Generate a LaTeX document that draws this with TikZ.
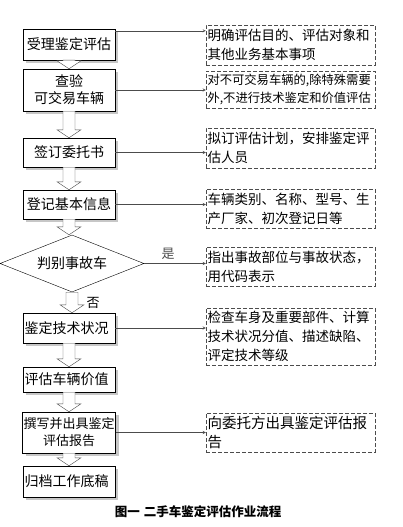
\documentclass[tikz,border=0pt]{standalone}
\usepackage{fontspec}
\setmainfont{Noto Sans CJK SC}
\usetikzlibrary{arrows,calc,shapes.geometric,shadows}
\definecolor{mygray}{gray}{0.78}
\definecolor{mydark}{gray}{0.3}
\newcommand{\blockarrow}[2]{%
  \draw[blockarr] let \p1=(#1.south), \p2=(#2.north) in
    (\x1-6pt,\y1) -- (\x1+6pt,\y1) -- (\x1+6pt,\y2+8pt) -- (\x1+12pt,\y2+8pt)
    -- (\x1,\y2) -- (\x1-12pt,\y2+8pt) -- (\x1-6pt,\y2+8pt) -- cycle;}

\begin{document}
\begin{tikzpicture}[x=1pt,y=-1pt,
  procbox/.style={draw=black, fill=white, minimum width=92pt, inner sep=1pt, align=center,
    font=\fontsize{14}{17}\selectfont,
    drop shadow={shadow xshift=3pt, shadow yshift=-3pt, fill=mygray, opacity=1}},
  leftbox/.style={procbox, text width=89pt, align=left},
  infobox/.style={draw=mydark, dash pattern=on 4pt off 2pt, minimum width=169pt,
    text width=166pt, inner xsep=1.5pt, inner ysep=1pt, align=left,
    font=\fontsize{13.5}{19}\selectfont},
  blockarr/.style={draw=mydark, fill=white},
  conn/.style={mydark, -stealth}]
\useasboundingbox (0,0) rectangle (402,527);
% steps on the left
\node[procbox, minimum height=31pt] (accept) at (69,44.5) {受理鉴定评估};
\node[procbox, minimum height=42pt] (check) at (69,90) {查验\\可交易车辆};
\node[procbox, minimum height=29pt] (sign) at (69,152.5) {签订委托书};
\node[procbox, minimum height=29pt] (record) at (69,204.5) {登记基本信息};
\node[draw=black, fill=white, diamond, aspect=2.5, minimum width=144pt, minimum height=57pt,
  inner sep=0pt, font=\fontsize{14}{17}\selectfont] (accident) at (72,263.5) {判别事故车};
\node[leftbox, minimum height=30pt] (tech) at (69,328) {鉴定技术状况};
\node[leftbox, minimum height=25pt] (value) at (69,379.5) {评估车辆价值};
\node[procbox, minimum height=41pt, font=\fontsize{13}{17}\selectfont] (report) at (69,432.5) {撰写并出具鉴定\\评估报告};
\node[leftbox, minimum height=31pt] (archive) at (69,481.5) {归档工作底稿};
% notes on the right
\node[infobox, minimum height=40pt] (n1) at (290.5,45) {明确评估目的、评估对象和\\其他业务基本事项};
\node[infobox, minimum height=37pt, font=\fontsize{12.3}{18}\selectfont] (n2) at (290.5,89.5) {对不可交易车辆的,除特殊需要\\外,不进行技术鉴定和价值评估};
\node[infobox, minimum height=40pt] (n3) at (290.5,148) {拟订评估计划，安排鉴定评\\估人员};
\node[infobox, minimum height=39pt] (n4) at (290.5,208.5) {车辆类别、名称、型号、生\\产厂家、初次登记日等};
\node[infobox, minimum height=39pt] (n5) at (290.5,266.5) {指出事故部位与事故状态，\\用代码表示};
\node[infobox, minimum height=57pt] (n6) at (290.5,336.5) {检查车身及重要部件、计算\\技术状况分值、描述缺陷、\\评定技术等级};
\node[infobox, minimum height=39pt, font=\fontsize{14.5}{19}\selectfont] (n7) at (290.5,432.5) {向委托方出具鉴定评估报\\告};
% draw the arrows
\blockarrow{accept}{check}
\blockarrow{check}{sign}
\blockarrow{sign}{record}
\blockarrow{record}{accident}
\blockarrow{accident}{tech}
\blockarrow{tech}{value}
\blockarrow{value}{report}
\blockarrow{report}{archive}
\draw[conn] ([yshift=-2pt]accept.north east) -- ([yshift=-2pt]accept.north east -| n1.west);
\draw[conn] (check.east) -- (check.east -| n2.west);
\draw[conn] (sign.east) -- (sign.east -| n3.west);
\draw[conn] (record.east) -- (record.east -| n4.west);
\draw[conn] (accident.east) -- node[pos=0.39, above, font=\fontsize{13}{13}\selectfont] (yes) {是} (accident.east -| n5.west);
\draw[conn] (tech.east) -- (tech.east -| n6.west);
\draw[conn] (report.east) -- (report.east -| n7.west);
\node[font=\fontsize{13}{13}\selectfont] (no) at (93,303) {否};
\node[font=\bfseries\fontsize{12.5}{13}\selectfont] (title) at (198,512) {图一\hspace{4pt}二手车鉴定评估作业流程};
\end{tikzpicture}
\end{document}
